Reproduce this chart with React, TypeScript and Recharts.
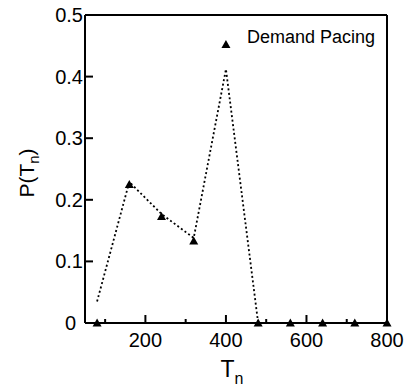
import React from "react";
import { ComposedChart, Line, Scatter, XAxis, YAxis, ReferenceLine } from "recharts";

const tnValues = [80, 160, 240, 320, 400, 480, 560, 640, 720, 800];
const pValues = [0, 0.225, 0.173, 0.133, 0.452, 0, 0, 0, 0, 0];
const fitTn = [80, 160, 240, 320, 400, 480];
const fitP = [0.035, 0.229, 0.177, 0.138, 0.412, 0];
const xTicks = [100, 200, 300, 400, 500, 600, 700, 800];
const xLabeled = [200, 400, 600, 800];
const yTicks = [0, 0.1, 0.2, 0.3, 0.4, 0.5];
const seriesName = "Demand Pacing";

const points = tnValues.map((t, i) => ({ t, p: pValues[i] }));
const fit = fitTn.map((t, i) => ({ t, f: fitP[i] }));

const FONT = "'Liberation Sans', Arial, Helvetica, sans-serif";

const XTick = (props: any) => {
  const { x, y, payload } = props;
  const v = payload.value;
  const major = xLabeled.includes(v);
  return (
    <g>
      {v < 800 && <line x1={x} x2={x} y1={y} y2={y - (major ? 8 : 4)} stroke="#000" strokeWidth={2} />}
      {major && (
        <text x={x} y={y + 24} textAnchor="middle" fontSize={20} fontFamily={FONT} fill="#000">
          {v}
        </text>
      )}
    </g>
  );
};

const YTick = (props: any) => {
  const { x, y, payload } = props;
  const v = payload.value;
  const inner = v > 0 && v < 0.5;
  return (
    <g>
      {inner && <line x1={x} x2={x + 8} y1={y} y2={y} stroke="#000" strokeWidth={2} />}
      <text x={v === 0 ? x - 9 : x - 2} y={y + 7} textAnchor="end" fontSize={20} fontFamily={FONT} fill="#000">
        {v === 0 ? "0" : v.toFixed(1)}
      </text>
    </g>
  );
};

const Triangle = (props: any) => {
  const { cx, cy } = props;
  if (cx == null || cy == null) return null;
  return <polygon points={`${cx},${cy - 4.5} ${cx - 4.5},${cy + 3.5} ${cx + 4.5},${cy + 3.5}`} fill="#000" />;
};

const XLabel = (props: any) => {
  const vb = props.viewBox || {};
  const cx = vb.x + vb.width / 2;
  return (
    <text x={cx - 4} y={377} textAnchor="middle" fontSize={23} fontFamily={FONT} fill="#000">
      T<tspan fontSize={16} dy={7}>n</tspan>
    </text>
  );
};

const YLabel = (props: any) => {
  const vb = props.viewBox || {};
  const cy = vb.y + vb.height / 2;
  return (
    <text
      x={0}
      y={0}
      transform={`translate(34, ${cy + 4}) rotate(-90)`}
      textAnchor="middle"
      fontSize={21}
      fontFamily={FONT}
      fill="#000"
    >
      P(T<tspan fontSize={15} dy={5}>n</tspan>
      <tspan dy={-5}>)</tspan>
    </text>
  );
};

const SeriesLabel = () => (
  <text x={247} y={43} fontSize={18} fontFamily={FONT} fill="#000">
    {seriesName}
  </text>
);

export default function App() {
  return (
    <div style={{ position: "absolute", left: 0, top: 0, width: 407, height: 388, background: "#fff" }}>
      <ComposedChart width={407} height={388} margin={{ top: 15, right: 20, bottom: 25, left: 25 }}>
        <XAxis
          dataKey="t"
          type="number"
          domain={[50, 800]}
          ticks={xTicks}
          tick={<XTick />}
          tickLine={false}
          tickSize={0}
          tickMargin={0}
          height={40}
          interval={0}
          axisLine={{ stroke: "#000", strokeWidth: 2 }}
          label={<XLabel />}
        />
        <YAxis
          type="number"
          domain={[0, 0.5]}
          ticks={yTicks}
          tick={<YTick />}
          tickLine={false}
          tickSize={0}
          tickMargin={0}
          width={60}
          interval={0}
          axisLine={{ stroke: "#000", strokeWidth: 2 }}
          label={<YLabel />}
        />
        <ReferenceLine y={0.5} stroke="#000" strokeWidth={2} label={<SeriesLabel />} />
        <ReferenceLine x={800} stroke="#000" strokeWidth={2} />
        <Line
          data={fit}
          dataKey="f"
          type="linear"
          stroke="#000"
          strokeWidth={1.8}
          strokeDasharray="2 2.5"
          dot={false}
          activeDot={false}
          isAnimationActive={false}
          legendType="none"
        />
        <Scatter data={points} dataKey="p" name={seriesName} shape={<Triangle />} isAnimationActive={false} />
      </ComposedChart>
    </div>
  );
}
